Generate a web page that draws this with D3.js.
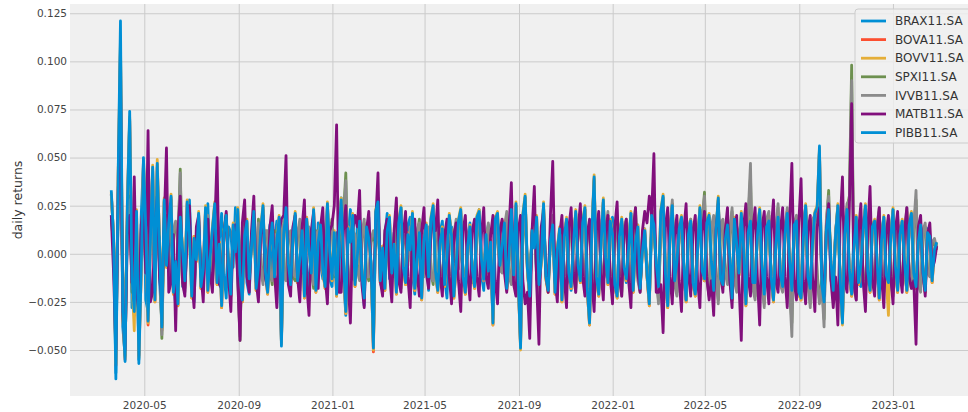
<!DOCTYPE html>
<html>
<head>
<meta charset="utf-8">
<script src="https://cdn.jsdelivr.net/npm/d3@7"></script>
<style>
  body { margin: 0; background: #ffffff; }
  svg { display: block; font-family: "DejaVu Sans", sans-serif; }
</style>
</head>
<body>
<div id="chart"></div>
<script>
// Tickers, in plotting order (last one drawn on top)
const tickers = ["BRAX11.SA", "BOVA11.SA", "BOVV11.SA", "SPXI11.SA", "IVVB11.SA", "MATB11.SA", "PIBB11.SA"];
const colors = ["#008fd5", "#fc4f30", "#e5ae38", "#6d904f", "#8b8b8b", "#810f7c", "#008fd5"];

// First and last trading day shown; samples are evenly spread between them
const firstDay = "2020-03-19";
const lastDay = "2023-02-27";

// Daily returns (one sample every ~3 calendar days)
const brax = [
  0.031, 0.009, -0.062, 0.028, 0.110, -0.038, -0.053, 0.019, 0.070, -0.028,
  -0.020, 0.014, -0.055, 0.019, 0.048, -0.024, -0.030, 0.009, 0.043, -0.019,
  0.045, -0.014, -0.036, 0.019, 0.011, -0.009, 0.028, -0.011, -0.027, 0.009,
  0.025, -0.017, -0.011, 0.013, 0.028, -0.007, -0.025, 0.005, 0.017, -0.013,
  -0.019, 0.011, 0.026, -0.009, -0.005, 0.015, -0.014, 0.007, 0.021, -0.011,
  -0.023, 0.014, 0.011, -0.007, 0.024, -0.011, -0.019, 0.008, 0.014, -0.015,
  -0.021, 0.009, 0.019, -0.005, -0.017, 0.011, 0.023, -0.013, 0.004, 0.015,
  -0.011, 0.007, 0.017, -0.009, -0.046, 0.011, 0.025, -0.011, -0.014, 0.013,
  0.018, -0.009, -0.019, 0.011, 0.021, -0.007, -0.024, 0.013, 0.007, -0.015,
  0.016, -0.005, -0.013, 0.009, 0.025, -0.013, -0.017, 0.007, 0.011, -0.015,
  0.029, -0.011, -0.032, 0.009, 0.023, -0.013, -0.014, 0.015, 0.017, -0.009,
  -0.027, 0.011, 0.019, -0.007, -0.047, 0.013, 0.029, -0.015, -0.019, 0.009,
  0.021, -0.013, -0.007, 0.011, -0.017, 0.007, 0.024, -0.009, -0.011, 0.015,
  0.019, -0.011, -0.021, 0.009, 0.015, -0.013, 0.005, 0.011, -0.019, 0.013,
  0.023, -0.007, -0.014, 0.011, 0.017, -0.013, -0.023, 0.009, 0.014, -0.005,
  -0.011, 0.013, 0.021, -0.011, -0.019, 0.009, 0.016, -0.015, -0.009, 0.011,
  0.023, -0.011, -0.019, 0.009, 0.015, -0.007, -0.034, 0.013, 0.019, -0.009,
  0.004, 0.011, -0.017, -0.005, 0.021, -0.009, 0.025, -0.013, -0.047, 0.015,
  0.029, -0.009, -0.024, 0.011, 0.019, -0.013, -0.017, 0.009, 0.025, -0.011,
  -0.019, 0.007, 0.014, -0.015, -0.005, 0.011, -0.023, 0.009, 0.017, -0.011,
  -0.019, 0.009, 0.021, -0.011, -0.014, 0.013, 0.023, -0.009, -0.034, 0.011,
  0.038, -0.013, -0.019, 0.007, 0.027, -0.009, -0.014, 0.015, 0.019, -0.013,
  -0.021, 0.011, 0.017, -0.009, -0.015, 0.007, 0.021, -0.013, 0.003, 0.015,
  -0.019, 0.009, 0.013, -0.011, -0.025, 0.013, 0.019, -0.007, -0.017, 0.015,
  0.029, -0.013, -0.027, 0.011, 0.024, -0.015, -0.009, 0.013, 0.019, -0.009,
  -0.024, 0.011, 0.017, -0.013, -0.021, 0.009, 0.023, -0.011, -0.014, 0.013,
  0.019, -0.011, -0.019, 0.013, 0.028, -0.009, -0.017, 0.011, 0.015, -0.013,
  -0.023, 0.015, 0.005, -0.011, 0.019, -0.007, -0.025, 0.013, 0.017, -0.015,
  -0.015, 0.013, 0.023, -0.011, -0.021, 0.015, 0.017, -0.013, -0.024, 0.011,
  0.019, -0.015, -0.017, 0.013, 0.021, -0.011, -0.019, 0.015, 0.017, -0.017,
  -0.023, 0.013, 0.025, -0.015, -0.019, 0.011, 0.021, 0.017, 0.054, -0.019,
  -0.025, 0.015, 0.023, -0.013, -0.019, 0.011, 0.025, -0.017, -0.034, 0.013,
  0.023, -0.013, -0.021, 0.011, 0.019, -0.015, -0.017, 0.013, 0.025, -0.011,
  -0.019, 0.015, 0.017, -0.009, -0.023, 0.011, 0.019, -0.013, -0.015, 0.011,
  0.023, -0.011, -0.019, 0.013, 0.017, -0.009, -0.019, 0.011, 0.021, -0.013,
  -0.017, 0.009, 0.015, -0.011, -0.019, 0.013, 0.009, -0.011, 0.002, 0.005
];
const bova = [
  0.031, 0.009, -0.058, 0.040, 0.106, -0.032, -0.055, 0.025, 0.069, -0.013,
  -0.032, 0.021, -0.053, -0.011, 0.047, 0.013, -0.037, 0.007, 0.044, -0.025,
  0.046, 0.005, -0.040, 0.027, -0.007, 0.015, 0.029, -0.021, -0.005, -0.027,
  0.018, 0.003, -0.015, 0.026, 0.011, -0.023, 0.009, -0.004, 0.020, -0.018,
  -0.009, 0.023, -0.020, -0.003, 0.012, 0.025, -0.016, 0.006, -0.028, 0.010,
  0.019, -0.007, -0.022, 0.014, 0.002, 0.022, -0.012, -0.025, 0.008, 0.016,
  -0.014, 0.005, 0.021, -0.019, -0.008, 0.011, 0.024, -0.010, -0.021, 0.004,
  0.015, -0.013, 0.008, 0.018, -0.046, 0.011, 0.023, -0.006, -0.017, 0.009,
  0.020, -0.015, -0.004, 0.011, -0.023, 0.017, 0.003, -0.011, 0.022, -0.020,
  0.007, 0.014, -0.009, -0.018, 0.025, 0.002, -0.014, 0.010, -0.022, 0.008,
  0.027, -0.005, -0.031, 0.012, 0.007, 0.019, -0.017, -0.003, 0.016, -0.012,
  -0.024, 0.013, 0.009, -0.006, -0.051, 0.021, 0.026, -0.015, 0.004, -0.019,
  0.011, 0.018, -0.011, 0.006, -0.021, 0.015, 0.023, -0.008, -0.016, 0.009,
  0.003, 0.020, -0.019, -0.005, 0.010, -0.024, 0.008, 0.014, -0.013, 0.017,
  0.024, -0.010, -0.020, 0.007, 0.012, -0.017, -0.003, 0.019, 0.010, -0.023,
  -0.007, 0.016, 0.022, -0.013, -0.021, 0.005, 0.013, -0.009, -0.018, 0.018,
  0.021, -0.004, -0.014, 0.009, -0.010, 0.007, -0.037, 0.017, 0.020, -0.007,
  0.005, 0.015, -0.019, -0.002, 0.022, -0.012, 0.025, -0.015, -0.048, 0.019,
  0.029, -0.009, -0.023, 0.011, 0.004, 0.018, -0.017, -0.005, 0.025, -0.013,
  -0.020, 0.008, 0.014, -0.021, 0.003, 0.012, -0.025, 0.010, 0.017, -0.011,
  -0.018, 0.006, 0.021, -0.007, -0.015, 0.015, 0.023, -0.019, -0.037, 0.010,
  0.039, -0.013, -0.022, 0.005, 0.027, -0.003, -0.016, 0.016, 0.011, -0.017,
  -0.023, 0.010, 0.017, -0.008, -0.014, 0.004, 0.020, -0.020, 0.007, 0.013,
  -0.019, 0.002, 0.011, -0.012, -0.027, 0.019, 0.014, -0.006, -0.018, 0.021,
  0.029, -0.011, -0.028, 0.009, 0.024, -0.015, -0.005, 0.012, 0.018, -0.007,
  -0.025, 0.011, 0.016, -0.016, -0.022, 0.003, 0.023, -0.010, -0.014, 0.015,
  0.019, -0.005, -0.020, 0.011, 0.028, -0.014, -0.017, 0.008, 0.014, -0.003,
  -0.024, 0.017, 0.006, -0.011, 0.020, 0.004, -0.027, 0.010, 0.016, -0.016,
  -0.016, 0.010, 0.022, -0.007, -0.022, 0.013, 0.016, -0.013, -0.025, 0.005,
  0.018, -0.012, -0.018, 0.009, 0.020, -0.004, -0.020, 0.014, 0.016, -0.021,
  -0.024, 0.009, 0.024, -0.013, -0.019, 0.007, 0.020, 0.023, 0.053, -0.017,
  -0.026, 0.011, 0.022, -0.005, -0.020, 0.010, 0.024, -0.014, -0.035, 0.011,
  0.022, -0.009, -0.022, 0.004, 0.018, -0.016, -0.007, 0.011, 0.024, -0.010,
  -0.020, 0.013, 0.016, -0.003, -0.024, 0.008, 0.018, -0.012, -0.016, 0.009,
  0.022, -0.007, -0.020, 0.009, 0.016, -0.005, -0.020, 0.014, 0.020, -0.011,
  -0.018, 0.007, 0.014, -0.010, -0.020, 0.010, 0.008, -0.015, 0.001, 0.005
];
const bovv = [
  0.032, 0.009, -0.057, 0.041, 0.112, -0.031, -0.054, 0.027, 0.071, -0.013,
  -0.040, 0.023, -0.054, -0.011, 0.049, 0.015, -0.036, 0.007, 0.046, -0.025,
  0.049, 0.005, -0.039, 0.029, -0.007, 0.017, 0.031, -0.021, -0.005, -0.027,
  0.020, 0.003, -0.015, 0.028, 0.011, -0.023, 0.009, -0.004, 0.022, -0.018,
  -0.009, 0.025, -0.020, -0.003, 0.014, 0.027, -0.016, 0.006, -0.028, 0.012,
  0.021, -0.007, -0.022, 0.016, 0.002, 0.024, -0.012, -0.025, 0.010, 0.018,
  -0.014, 0.005, 0.023, -0.019, -0.008, 0.013, 0.026, -0.010, -0.021, 0.004,
  0.017, -0.013, 0.008, 0.020, -0.047, 0.011, 0.025, -0.006, -0.017, 0.009,
  0.022, -0.015, -0.004, 0.013, -0.023, 0.019, 0.003, -0.011, 0.024, -0.020,
  0.007, 0.016, -0.009, -0.018, 0.027, 0.002, -0.014, 0.012, -0.022, 0.010,
  0.029, -0.005, -0.031, 0.014, 0.007, 0.021, -0.017, -0.003, 0.018, -0.012,
  -0.024, 0.015, 0.009, -0.006, -0.050, 0.023, 0.028, -0.015, 0.004, -0.019,
  0.013, 0.020, -0.011, 0.006, -0.021, 0.017, 0.025, -0.008, -0.016, 0.011,
  0.003, 0.022, -0.019, -0.005, 0.012, -0.024, 0.008, 0.016, -0.013, 0.019,
  0.026, -0.010, -0.020, 0.007, 0.014, -0.017, -0.003, 0.021, 0.010, -0.023,
  -0.007, 0.018, 0.024, -0.013, -0.021, 0.005, 0.015, -0.009, -0.018, 0.020,
  0.023, -0.004, -0.014, 0.011, -0.010, 0.007, -0.037, 0.019, 0.022, -0.007,
  0.005, 0.017, -0.019, -0.002, 0.024, -0.012, 0.027, -0.015, -0.050, 0.021,
  0.031, -0.009, -0.023, 0.013, 0.004, 0.020, -0.017, -0.005, 0.027, -0.013,
  -0.020, 0.008, 0.016, -0.021, 0.003, 0.014, -0.025, 0.010, 0.019, -0.011,
  -0.018, 0.006, 0.023, -0.007, -0.015, 0.017, 0.025, -0.019, -0.037, 0.012,
  0.041, -0.013, -0.022, 0.005, 0.029, -0.003, -0.016, 0.018, 0.011, -0.017,
  -0.023, 0.010, 0.019, -0.008, -0.014, 0.004, 0.022, -0.020, 0.007, 0.015,
  -0.019, 0.002, 0.013, -0.012, -0.027, 0.021, 0.016, -0.006, -0.018, 0.023,
  0.031, -0.011, -0.028, 0.009, 0.026, -0.015, -0.005, 0.014, 0.020, -0.007,
  -0.025, 0.011, 0.018, -0.016, -0.022, 0.003, 0.025, -0.010, -0.014, 0.017,
  0.021, -0.005, -0.020, 0.013, 0.030, -0.014, -0.017, 0.008, 0.016, -0.003,
  -0.024, 0.019, 0.006, -0.011, 0.022, 0.004, -0.027, 0.012, 0.018, -0.016,
  -0.016, 0.010, 0.024, -0.007, -0.022, 0.015, 0.018, -0.013, -0.025, 0.005,
  0.020, -0.012, -0.018, 0.011, 0.022, -0.004, -0.020, 0.016, 0.018, -0.021,
  -0.024, 0.009, 0.026, -0.013, -0.019, 0.007, 0.022, 0.025, 0.055, -0.017,
  -0.026, 0.013, 0.024, -0.005, -0.020, 0.010, 0.026, -0.014, -0.037, 0.011,
  0.024, -0.009, -0.022, 0.004, 0.020, -0.016, -0.007, 0.013, 0.026, -0.010,
  -0.020, 0.015, 0.018, -0.003, -0.024, 0.008, 0.020, -0.012, -0.032, 0.009,
  0.024, -0.007, -0.020, 0.011, 0.018, -0.005, -0.020, 0.016, 0.022, -0.011,
  -0.018, 0.007, 0.016, -0.010, -0.020, 0.012, 0.010, -0.015, 0.002, 0.006
];
const spxi = [
  0.018, 0.005, -0.030, 0.020, 0.045, -0.010, -0.040, 0.015, 0.030, -0.020,
  0.010, -0.012, -0.035, 0.010, 0.025, -0.008, -0.015, 0.012, 0.020, -0.010,
  0.012, 0.008, -0.044, 0.012, 0.020, -0.006, -0.010, 0.010, 0.015, 0.004,
  0.044, -0.014, -0.018, 0.008, 0.012, -0.010, -0.020, 0.006, 0.015, -0.012,
  -0.008, 0.010, 0.018, -0.006, -0.015, 0.008, 0.010, -0.004, -0.012, 0.012,
  0.020, -0.008, -0.010, 0.006, 0.014, -0.012, -0.045, 0.014, 0.016, -0.008,
  -0.010, 0.006, 0.012, -0.008, 0.018, -0.006, -0.014, 0.010, 0.010, -0.008,
  -0.016, 0.012, 0.008, 0.004, 0.015, -0.010, -0.012, 0.008, 0.010, -0.012,
  -0.014, 0.008, 0.016, -0.010, -0.008, 0.006, 0.012, -0.008, -0.018, 0.012,
  0.010, -0.006, 0.014, -0.008, -0.012, 0.010, 0.018, -0.012, -0.010, 0.008,
  0.012, 0.020, 0.042, -0.012, -0.016, 0.010, 0.008, -0.006, -0.012, 0.008,
  0.016, -0.010, -0.014, 0.006, 0.010, 0.004, 0.018, -0.008, -0.012, 0.010,
  0.014, -0.006, -0.010, 0.008, 0.016, -0.010, -0.018, 0.006, 0.008, -0.004,
  0.012, -0.008, -0.015, 0.010, 0.018, -0.008, -0.010, 0.006, 0.012, -0.010,
  -0.016, 0.006, 0.014, -0.008, -0.012, 0.004, 0.010, -0.010, -0.020, 0.008,
  0.016, -0.006, 0.008, -0.010, -0.014, 0.006, 0.012, -0.008, -0.010, 0.010,
  0.018, -0.008, -0.012, 0.006, 0.014, -0.010, -0.016, 0.008, 0.010, -0.006,
  -0.008, 0.012, 0.020, -0.010, -0.014, 0.008, 0.012, -0.006, -0.018, 0.010,
  0.016, -0.006, -0.010, 0.008, 0.012, -0.008, -0.020, 0.010, 0.014, -0.006,
  -0.012, 0.008, 0.018, -0.010, -0.016, 0.006, 0.010, -0.008, -0.014, 0.010,
  0.012, -0.008, -0.018, 0.010, 0.016, -0.006, -0.010, 0.008, 0.014, -0.010,
  -0.022, 0.012, 0.018, -0.008, -0.012, 0.010, 0.020, -0.012, -0.016, 0.008,
  0.014, -0.010, -0.020, 0.012, 0.016, -0.008, -0.012, 0.010, 0.022, -0.012,
  -0.018, 0.008, 0.010, -0.006, -0.016, 0.012, 0.020, -0.010, -0.024, 0.012,
  0.018, -0.010, -0.014, 0.012, 0.026, -0.014, -0.020, 0.010, 0.012, -0.008,
  -0.022, 0.012, 0.016, -0.010, -0.018, 0.008, 0.014, 0.016, 0.032, -0.012,
  -0.020, 0.012, 0.018, -0.010, -0.024, 0.014, 0.016, -0.008, -0.014, 0.010,
  0.022, -0.012, -0.018, 0.010, 0.014, -0.012, -0.020, 0.018, 0.040, -0.016,
  -0.022, 0.012, 0.016, -0.014, -0.026, 0.016, 0.020, -0.012, -0.014, 0.010,
  0.024, -0.014, -0.018, 0.012, 0.022, -0.016, -0.036, 0.014, 0.018, -0.012,
  -0.020, 0.014, 0.022, -0.012, -0.026, 0.016, 0.018, -0.010, -0.024, -0.014,
  -0.034, 0.016, 0.033, -0.012, -0.016, 0.010, 0.020, -0.014, -0.018, 0.012,
  0.024, 0.030, 0.098, -0.016, -0.022, 0.010, 0.016, -0.012, -0.020, 0.014,
  0.018, -0.010, -0.014, 0.012, 0.022, -0.014, -0.018, 0.010, 0.016, -0.012,
  -0.020, 0.010, 0.018, -0.012, -0.014, 0.008, 0.022, -0.010, -0.016, 0.012,
  0.028, -0.014, -0.018, 0.010, 0.014, -0.008, -0.010, 0.004, 0.006, 0.002
];
const ivvb = [
  0.020, 0.007, -0.032, 0.018, 0.047, -0.012, -0.038, 0.017, 0.028, -0.018,
  0.012, -0.010, -0.033, 0.012, 0.027, -0.010, -0.017, 0.010, 0.018, -0.012,
  0.014, 0.006, -0.042, 0.014, 0.018, -0.008, -0.012, 0.012, 0.017, 0.006,
  0.042, -0.016, -0.020, 0.010, 0.014, -0.012, -0.018, 0.008, 0.013, -0.010,
  -0.010, 0.012, 0.020, -0.008, -0.013, 0.010, 0.012, -0.006, -0.014, 0.010,
  0.018, -0.010, -0.012, 0.008, 0.016, -0.010, -0.043, 0.012, 0.014, -0.010,
  -0.012, 0.008, 0.014, -0.006, 0.016, -0.008, -0.016, 0.012, 0.012, -0.010,
  -0.014, 0.010, 0.010, 0.006, 0.017, -0.012, -0.014, 0.010, 0.012, -0.010,
  -0.012, 0.010, 0.018, -0.008, -0.010, 0.008, 0.014, -0.010, -0.016, 0.010,
  0.012, -0.008, 0.016, -0.006, -0.014, 0.012, 0.016, -0.010, -0.012, 0.010,
  0.014, 0.018, 0.038, -0.014, -0.018, 0.012, 0.010, -0.008, -0.014, 0.010,
  0.018, -0.012, -0.012, 0.008, 0.012, 0.006, 0.016, -0.010, -0.014, 0.012,
  0.016, -0.008, -0.012, 0.010, 0.018, -0.012, -0.016, 0.008, 0.010, -0.006,
  0.014, -0.010, -0.017, 0.012, 0.016, -0.010, -0.012, 0.008, 0.014, -0.012,
  -0.014, 0.008, 0.016, -0.010, -0.014, 0.006, 0.012, -0.012, -0.018, 0.010,
  0.018, -0.008, 0.010, -0.012, -0.016, 0.008, 0.014, -0.010, -0.012, 0.012,
  0.020, -0.010, -0.014, 0.008, 0.016, -0.012, -0.018, 0.010, 0.012, -0.008,
  -0.010, 0.014, 0.022, -0.012, -0.016, 0.010, 0.014, -0.008, -0.016, 0.012,
  0.018, -0.008, -0.012, 0.010, 0.014, -0.010, -0.022, 0.012, 0.016, -0.008,
  -0.014, 0.010, 0.020, -0.012, -0.018, 0.008, 0.012, -0.010, -0.016, 0.012,
  0.014, -0.010, -0.020, 0.012, 0.018, -0.008, -0.012, 0.010, 0.016, -0.012,
  -0.024, 0.014, 0.020, -0.010, -0.014, 0.012, 0.022, -0.014, -0.018, 0.010,
  0.016, -0.012, -0.022, 0.014, 0.018, -0.010, -0.014, 0.012, 0.024, -0.014,
  -0.020, 0.010, 0.012, -0.008, -0.018, 0.014, 0.022, -0.012, -0.026, 0.014,
  0.020, -0.012, -0.016, 0.014, 0.028, -0.016, -0.022, 0.012, 0.014, -0.010,
  -0.024, 0.014, 0.018, -0.012, -0.020, 0.010, 0.016, 0.018, 0.030, -0.014,
  -0.022, 0.014, 0.020, -0.012, -0.026, 0.016, 0.018, -0.010, -0.016, 0.012,
  0.024, -0.014, -0.020, 0.012, 0.016, -0.014, -0.022, 0.020, 0.047, -0.018,
  -0.024, 0.014, 0.018, -0.016, -0.028, 0.018, 0.022, -0.014, -0.016, 0.012,
  0.026, -0.016, -0.020, 0.014, 0.024, -0.018, -0.043, 0.016, 0.020, -0.014,
  -0.022, 0.016, 0.024, -0.014, -0.028, 0.018, 0.020, -0.012, -0.026, -0.016,
  -0.038, 0.018, 0.030, -0.014, -0.018, 0.012, 0.022, -0.016, -0.020, 0.014,
  0.026, 0.028, 0.090, -0.018, -0.024, 0.012, 0.018, -0.014, -0.022, 0.016,
  0.020, -0.012, -0.016, 0.014, 0.024, -0.016, -0.020, 0.012, 0.018, -0.014,
  -0.022, 0.012, 0.020, -0.014, -0.016, 0.010, 0.024, -0.012, -0.018, 0.014,
  0.033, -0.016, -0.020, 0.012, 0.016, -0.010, -0.012, 0.006, 0.008, 0.003
];
const matb = [
  0.020, -0.010, -0.050, 0.030, 0.090, -0.030, -0.050, 0.010, 0.020, -0.015,
  0.040, -0.020, -0.030, 0.015, 0.025, -0.010, 0.064, -0.025, -0.020, 0.015,
  0.030, -0.012, -0.025, 0.015, 0.055, -0.020, -0.015, 0.010, -0.040, 0.012,
  0.030, -0.015, -0.022, 0.010, 0.025, -0.012, -0.028, 0.014, 0.020, -0.010,
  -0.025, 0.012, 0.018, -0.010, -0.020, 0.014, 0.050, -0.016, -0.018, 0.010,
  0.022, -0.012, -0.030, 0.012, 0.015, -0.014, -0.045, 0.016, 0.028, -0.012,
  -0.020, 0.012, 0.030, -0.014, -0.025, 0.010, 0.020, -0.012, -0.018, 0.014,
  0.025, -0.010, -0.028, 0.012, 0.018, 0.020, 0.051, -0.016, -0.022, 0.014,
  0.020, -0.012, -0.025, 0.014, 0.028, -0.016, -0.032, 0.012, 0.022, -0.010,
  -0.018, 0.014, 0.024, -0.012, -0.026, 0.012, 0.015, 0.025, 0.067, -0.020,
  -0.020, 0.012, 0.025, -0.014, -0.036, 0.012, 0.020, 0.014, 0.033, -0.016,
  -0.028, 0.012, 0.022, -0.010, -0.025, 0.016, 0.042, -0.014, -0.022, 0.012,
  0.018, -0.010, -0.025, 0.012, 0.029, -0.014, -0.020, 0.010, 0.022, -0.012,
  -0.028, 0.014, 0.018, -0.010, -0.022, 0.012, 0.024, -0.010, -0.018, 0.010,
  0.020, 0.012, 0.028, -0.012, -0.022, 0.010, 0.018, -0.012, -0.026, 0.010,
  0.016, -0.014, -0.030, 0.012, 0.020, -0.010, -0.024, 0.012, 0.018, -0.012,
  -0.022, 0.010, 0.024, -0.012, -0.018, 0.010, 0.020, -0.014, -0.026, 0.012,
  0.018, -0.010, -0.020, 0.014, 0.037, -0.016, -0.022, 0.012, 0.020, -0.014,
  -0.026, -0.020, -0.044, 0.012, 0.035, -0.016, -0.047, 0.014, 0.022, -0.010,
  -0.020, 0.020, 0.048, -0.014, -0.025, 0.010, 0.020, -0.012, -0.028, 0.014,
  0.024, -0.010, -0.020, 0.012, 0.026, -0.012, -0.022, 0.010, 0.018, -0.014,
  -0.030, 0.012, 0.022, -0.010, -0.024, 0.012, 0.020, -0.012, -0.026, 0.014,
  0.027, -0.012, -0.022, 0.010, 0.018, -0.014, -0.028, 0.012, 0.024, -0.010,
  -0.020, 0.012, 0.022, 0.016, 0.030, 0.020, 0.052, -0.020, -0.020, -0.016,
  -0.041, 0.014, 0.024, -0.012, -0.026, 0.010, 0.020, -0.014, -0.030, 0.012,
  0.026, -0.010, -0.022, 0.012, 0.020, -0.014, -0.028, 0.012, 0.022, -0.012,
  -0.024, -0.014, -0.032, 0.012, 0.026, -0.010, -0.020, 0.012, 0.024, -0.014,
  -0.028, 0.010, 0.020, -0.016, -0.045, 0.014, 0.026, -0.012, -0.022, 0.012,
  0.024, -0.012, -0.037, 0.014, 0.022, -0.012, -0.026, 0.012, 0.028, -0.014,
  -0.020, 0.012, 0.024, -0.012, -0.028, 0.016, 0.047, -0.014, -0.024, 0.016,
  0.039, -0.014, -0.026, 0.012, 0.020, -0.012, -0.030, 0.014, 0.024, -0.010,
  -0.022, 0.012, 0.026, -0.014, -0.028, -0.012, -0.037, 0.016, 0.040, -0.014,
  -0.020, 0.024, 0.078, -0.016, -0.024, 0.012, 0.026, -0.014, -0.030, 0.012,
  0.035, -0.014, -0.022, 0.012, 0.024, -0.012, -0.028, 0.010, 0.020, -0.012,
  -0.026, 0.012, 0.022, -0.010, -0.020, 0.012, 0.024, -0.012, -0.018, -0.014,
  -0.047, 0.014, 0.020, -0.010, -0.022, 0.010, 0.016, -0.008, -0.004, 0.004
];
const pibb = [
  0.033, 0.008, -0.065, 0.042, 0.121, -0.030, -0.056, 0.026, 0.074, -0.012,
  -0.030, 0.022, -0.057, -0.010, 0.050, 0.014, -0.035, 0.006, 0.045, -0.024,
  0.047, 0.004, -0.038, 0.028, -0.006, 0.016, 0.030, -0.020, -0.004, -0.026,
  0.019, 0.002, -0.014, 0.027, 0.010, -0.022, 0.008, -0.003, 0.021, -0.017,
  -0.008, 0.024, -0.019, -0.002, 0.013, 0.026, -0.015, 0.005, -0.027, 0.011,
  0.020, -0.006, -0.021, 0.015, 0.001, 0.023, -0.011, -0.024, 0.009, 0.017,
  -0.013, 0.004, 0.022, -0.018, -0.007, 0.012, 0.025, -0.009, -0.020, 0.003,
  0.016, -0.012, 0.007, 0.019, -0.048, 0.010, 0.024, -0.005, -0.016, 0.008,
  0.021, -0.014, -0.003, 0.012, -0.022, 0.018, 0.002, -0.010, 0.023, -0.019,
  0.006, 0.015, -0.008, -0.017, 0.026, 0.001, -0.013, 0.011, -0.021, 0.009,
  0.028, -0.004, -0.030, 0.013, 0.006, 0.020, -0.016, -0.002, 0.017, -0.011,
  -0.023, 0.014, 0.008, -0.005, -0.049, 0.022, 0.027, -0.014, 0.003, -0.018,
  0.012, 0.019, -0.010, 0.005, -0.020, 0.016, 0.024, -0.007, -0.015, 0.010,
  0.002, 0.021, -0.018, -0.004, 0.011, -0.023, 0.007, 0.015, -0.012, 0.018,
  0.025, -0.009, -0.019, 0.006, 0.013, -0.016, -0.002, 0.020, 0.009, -0.022,
  -0.006, 0.017, 0.023, -0.012, -0.020, 0.004, 0.014, -0.008, -0.017, 0.019,
  0.022, -0.003, -0.013, 0.010, -0.009, 0.006, -0.036, 0.018, 0.021, -0.006,
  0.004, 0.016, -0.018, -0.001, 0.023, -0.011, 0.026, -0.014, -0.049, 0.020,
  0.030, -0.008, -0.022, 0.012, 0.003, 0.019, -0.016, -0.004, 0.026, -0.012,
  -0.019, 0.007, 0.015, -0.020, 0.002, 0.013, -0.024, 0.009, 0.018, -0.010,
  -0.017, 0.005, 0.022, -0.006, -0.014, 0.016, 0.024, -0.018, -0.036, 0.011,
  0.040, -0.012, -0.021, 0.004, 0.028, -0.002, -0.015, 0.017, 0.010, -0.016,
  -0.022, 0.009, 0.018, -0.007, -0.013, 0.003, 0.021, -0.019, 0.006, 0.014,
  -0.018, 0.001, 0.012, -0.011, -0.026, 0.020, 0.015, -0.005, -0.017, 0.022,
  0.030, -0.010, -0.027, 0.008, 0.025, -0.014, -0.004, 0.013, 0.019, -0.006,
  -0.024, 0.010, 0.017, -0.015, -0.021, 0.002, 0.024, -0.009, -0.013, 0.016,
  0.020, -0.004, -0.019, 0.012, 0.029, -0.013, -0.016, 0.007, 0.015, -0.002,
  -0.023, 0.018, 0.005, -0.010, 0.021, 0.003, -0.026, 0.011, 0.017, -0.015,
  -0.015, 0.009, 0.023, -0.006, -0.021, 0.014, 0.017, -0.012, -0.024, 0.004,
  0.019, -0.011, -0.017, 0.010, 0.021, -0.003, -0.019, 0.015, 0.017, -0.020,
  -0.023, 0.008, 0.025, -0.012, -0.018, 0.006, 0.021, 0.024, 0.056, -0.016,
  -0.025, 0.012, 0.023, -0.004, -0.019, 0.009, 0.025, -0.013, -0.036, 0.010,
  0.023, -0.008, -0.021, 0.003, 0.019, -0.015, -0.006, 0.012, 0.025, -0.009,
  -0.019, 0.014, 0.017, -0.002, -0.023, 0.007, 0.019, -0.011, -0.015, 0.008,
  0.023, -0.006, -0.019, 0.010, 0.017, -0.004, -0.019, 0.015, 0.021, -0.010,
  -0.017, 0.006, 0.015, -0.009, -0.019, 0.011, 0.009, -0.014, 0.002, 0.006
];
const seriesValues = [brax, bova, bovv, spxi, ivvb, matb, pibb];

// Axis ticks
const yTicks = [-0.05, -0.025, 0, 0.025, 0.05, 0.075, 0.1, 0.125];
const xTickLabels = ["2020-05", "2020-09", "2021-01", "2021-05", "2021-09", "2022-01", "2022-05", "2022-09", "2023-01"];

const width = 968;
const height = 412;
const margin = { top: 4, right: -10, bottom: 16, left: 70 };

const parseDay = d3.timeParse("%Y-%m-%d");
const parseMonth = d3.timeParse("%Y-%m");
const t0 = parseDay(firstDay), t1 = parseDay(lastDay);
const n = pibb.length;
const dates = d3.range(n).map(i => new Date(+t0 + (t1 - t0) * i / (n - 1)));

// matplotlib-like 5% margins around the data
const span = t1 - t0;
const x = d3.scaleTime()
  .domain([new Date(+t0 - span * 0.05), new Date(+t1 + span * 0.05)])
  .range([margin.left, width - margin.right]);

const y = d3.scaleLinear()
  .domain([-0.0739, 0.1298])
  .range([height - margin.bottom, margin.top]);

const svg = d3.select("#chart")
  .append("svg")
  .attr("width", width)
  .attr("height", height);

// Plot background
svg.append("rect")
  .attr("x", margin.left)
  .attr("y", margin.top)
  .attr("width", width - margin.right - margin.left)
  .attr("height", height - margin.bottom - margin.top)
  .attr("fill", "#f0f0f0");

// Grid
const xTickDates = xTickLabels.map(parseMonth);
svg.append("g")
  .attr("transform", `translate(0,${height - margin.bottom})`)
  .call(d3.axisBottom(x).tickValues(xTickDates).tickSize(-(height - margin.bottom - margin.top)).tickFormat(""))
  .call(g => g.select(".domain").remove())
  .call(g => g.selectAll("line").attr("stroke", "#cbcbcb").attr("stroke-width", 1));

svg.append("g")
  .attr("transform", `translate(${margin.left},0)`)
  .call(d3.axisLeft(y).tickValues(yTicks).tickSize(-(width - margin.right - margin.left)).tickFormat(""))
  .call(g => g.select(".domain").remove())
  .call(g => g.selectAll("line").attr("stroke", "#cbcbcb").attr("stroke-width", 1));

// Lines
const line = d3.line()
  .x((d, i) => x(dates[i]))
  .y(d => y(d));

svg.append("g")
  .selectAll("path")
  .data(seriesValues)
  .enter()
  .append("path")
  .attr("d", d => line(d))
  .attr("fill", "none")
  .attr("stroke", (d, i) => colors[i])
  .attr("stroke-width", 2.8)
  .attr("stroke-linejoin", "round");

// Tick labels
svg.append("g")
  .attr("transform", `translate(${margin.left},0)`)
  .call(d3.axisLeft(y).tickValues(yTicks).tickSize(0).tickPadding(3).tickFormat(d3.format(".3f")))
  .call(g => g.select(".domain").remove())
  .call(g => g.selectAll("text")
    .style("font-family", "DejaVu Sans")
    .style("font-size", "10.5px")
    .attr("fill", "#444"));

svg.append("g")
  .attr("transform", `translate(0,${height - margin.bottom})`)
  .call(d3.axisBottom(x).tickValues(xTickDates).tickSize(0).tickPadding(6).tickFormat(d3.timeFormat("%Y-%m")))
  .call(g => g.select(".domain").remove())
  .call(g => g.selectAll("text")
    .style("font-family", "DejaVu Sans")
    .style("font-size", "10.5px")
    .attr("fill", "#444"));

// Y-axis label
svg.append("text")
  .attr("transform", `translate(22,${(margin.top + height - margin.bottom) / 2}) rotate(-90)`)
  .attr("text-anchor", "middle")
  .style("font-size", "12.5px")
  .attr("fill", "#333")
  .text("daily returns");

// Legend
const legend = svg.append("g").attr("transform", "translate(855,9)");
legend.append("rect")
  .attr("width", 130)
  .attr("height", 134)
  .attr("rx", 3)
  .attr("fill", "#f0f0f0")
  .attr("fill-opacity", 0.8)
  .attr("stroke", "#cccccc");

const items = legend.selectAll("g.item")
  .data(tickers)
  .enter()
  .append("g")
  .attr("class", "item")
  .attr("transform", (d, i) => `translate(0,${12 + i * 18.6})`);

items.append("line")
  .attr("x1", 6).attr("x2", 31)
  .attr("stroke", (d, i) => colors[i])
  .attr("stroke-width", 2.8);

items.append("text")
  .attr("x", 40)
  .attr("dy", "0.35em")
  .style("font-size", "12px")
  .attr("fill", "#333")
  .text(d => d);
</script>
</body>
</html>
